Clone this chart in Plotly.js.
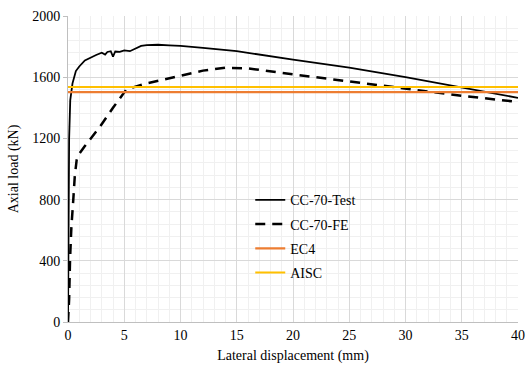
<!DOCTYPE html>
<html>
<head>
<meta charset="utf-8">
<script src="https://cdn.plot.ly/plotly-3.0.1.min.js"></script>
<style>html,body{margin:0;padding:0;background:#fff;}#chart{width:527px;height:371px;}</style>
</head>
<body>
<div id="chart"></div>
<script>
// Data
const testDisp = [0, 0.02, 0.05, 0.1, 0.2, 0.4, 0.7, 1.0, 1.5, 2.0, 2.5, 3.0, 3.3, 3.5, 3.8, 4.0, 4.2, 4.6, 5.0, 5.5, 6.0, 6.5, 7.0, 8.0, 9.0, 10.0, 12.0, 15.0, 20.0, 25.0, 30.0, 35.0, 40.0];
const testLoad = [0, 400, 800, 1200, 1450, 1560, 1640, 1670, 1710, 1730, 1745, 1760, 1748, 1765, 1770, 1735, 1768, 1765, 1775, 1770, 1790, 1805, 1810, 1812, 1808, 1805, 1792, 1770, 1715, 1662, 1600, 1532, 1465];
const feDisp = [0, 0.1, 0.18, 0.3, 0.47, 0.6, 0.77, 0.92, 1.5, 2.84, 4.0, 5.2, 7.0, 9.0, 12.0, 14.0, 16.0, 19.0, 22.0, 25.0, 30.0, 35.0, 40.0];
const feLoad = [0, 150, 405, 620, 800, 950, 1059, 1091, 1150, 1276, 1400, 1521, 1560, 1595, 1643, 1662, 1658, 1628, 1600, 1571, 1521, 1479, 1438];
const limitDisp = [0, 40];
const ec4Load = [1503, 1503];
const aiscLoad = [1536, 1536];
const seriesNames = ["CC-70-Test", "CC-70-FE", "EC4", "AISC"];

const traces = [
  {x: testDisp, y: testLoad, name: seriesNames[0], mode: "lines", legendgroup: "a",
   line: {color: "#000000", width: 1.8}},
  {x: feDisp, y: feLoad, name: seriesNames[1], mode: "lines", legendgroup: "b",
   line: {color: "#000000", width: 2.5, dash: "10px,7px"}},
  {x: limitDisp, y: ec4Load, name: seriesNames[2], mode: "lines", legendgroup: "c",
   line: {color: "#ED7D31", width: 2.2}},
  {x: limitDisp, y: aiscLoad, name: seriesNames[3], mode: "lines", legendgroup: "d",
   line: {color: "#FFC000", width: 2.2}}
];

const fam = "Liberation Serif";
const font = {family: fam, size: 14, color: "#000"};
const layout = {
  width: 527, height: 371,
  margin: {l: 68, r: 9, t: 16, b: 49},
  paper_bgcolor: "#fff", plot_bgcolor: "#fff",
  font: font,
  showlegend: true,
  legend: {x: 0.405, y: 0.45, xanchor: "left", yanchor: "top", bgcolor: "rgba(255,255,255,0)",
    font: {family: fam, size: 14, color: "#000"}, traceorder: "grouped", tracegroupgap: 3},
  xaxis: {
    range: [0, 40], dtick: 5, tick0: 0,
    showgrid: true, gridcolor: "#d9d9d9", gridwidth: 1,
    minor: {dtick: 1, showgrid: true, gridcolor: "#f0f0f0", gridwidth: 1},
    showline: true, linecolor: "#bfbfbf", linewidth: 1,
    zeroline: false, ticks: "", tickfont: {family: fam, size: 14, color: "#000"},
    title: {text: "Lateral displacement (mm)", font: {family: fam, size: 14, color: "#000"}, standoff: 8},
    fixedrange: true
  },
  yaxis: {
    range: [0, 2000], dtick: 400, tick0: 0,
    showgrid: true, gridcolor: "#d9d9d9", gridwidth: 1,
    minor: {dtick: 80, showgrid: true, gridcolor: "#f0f0f0", gridwidth: 1},
    showline: true, linecolor: "#bfbfbf", linewidth: 1,
    zeroline: false, ticks: "outside", ticklen: 4, tickcolor: "#bfbfbf",
    tickfont: {family: fam, size: 14, color: "#000"},
    title: {text: "Axial load (kN)", font: {family: fam, size: 14, color: "#000"}, standoff: 10},
    fixedrange: true
  }
};

Plotly.newPlot("chart", traces, layout, {staticPlot: true, displayModeBar: false});
</script>
</body>
</html>
